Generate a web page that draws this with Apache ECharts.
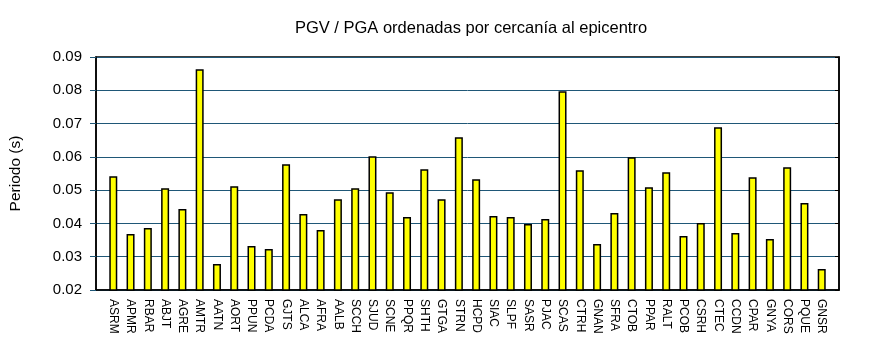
<!DOCTYPE html>
<html>
<head>
<meta charset="utf-8">
<script src="https://cdn.jsdelivr.net/npm/echarts@6/dist/echarts.min.js"></script>
<style>
  html, body { margin: 0; padding: 0; background: #fff; }
  #chart { width: 870px; height: 350px; }
</style>
</head>
<body>
<div id="chart"></div>
<script>
// Stations ordered by distance to the epicentre
const stations = [
  'ASRM','APMR','RBAR','ABJT','AGRE','AMTR','AATN','AORT','PPUN','PCDA',
  'GJTS','ALCA','AFRA','AALB','SCCH','SJUD','SCNE','PPQR','SHTH','GTGA',
  'STRN','HCPD','SIAC','SLPF','SASR','PJAC','SCAS','CTRH','GNAN','SFRA',
  'CTOB','PPAR','RALT','PCOB','CSRH','CTEC','CCDN','CPAR','GNYA','CORS',
  'PQUE','GNSR'
];

// PGV / PGA ratio for each station (s)
const ratios = [
  0.0542, 0.0368, 0.0386, 0.0506, 0.0443, 0.0863, 0.0278, 0.0512, 0.0332, 0.0323,
  0.0578, 0.0428, 0.0380, 0.0473, 0.0506, 0.0602, 0.0494, 0.0419, 0.0563, 0.0473,
  0.0659, 0.0533, 0.0422, 0.0419, 0.0398, 0.0413, 0.0797, 0.0560, 0.0338, 0.0431,
  0.0599, 0.0509, 0.0554, 0.0362, 0.0401, 0.0689, 0.0371, 0.0539, 0.0353, 0.0569,
  0.0461, 0.0263
];

// Y axis range and step
const yMin = 0.02;
const yMax = 0.09;
const yStep = 0.01;

const font = 'Liberation Sans, Arial, sans-serif';

// One empty slot at each end so the stations sit one step in from the frame
const axisCats = [''].concat(stations, ['']);
const axisVals = [null].concat(ratios, [null]);

const chart = echarts.init(document.getElementById('chart'), null, { renderer: 'canvas' });

chart.setOption({
  animation: false,
  backgroundColor: '#ffffff',
  title: {
    text: 'PGV / PGA ordenadas por cercanía al epicentro',
    left: 466,
    textAlign: 'center',
    top: 15,
    textStyle: { fontFamily: font, fontSize: 16.5, fontWeight: 'normal', color: '#000' }
  },
  grid: {
    left: 94, right: 31, top: 57, bottom: 60,
    show: true,
    borderColor: '#000',
    borderWidth: 1.5,
    backgroundColor: 'transparent'
  },
  xAxis: {
    type: 'category',
    data: axisCats,
    boundaryGap: false,
    axisLine: { show: true, lineStyle: { color: '#000', width: 1.5 } },
    axisTick: { show: false },
    axisLabel: {
      rotate: -90,
      interval: 0,
      margin: 9,
      fontFamily: font,
      fontSize: 12,
      color: '#000'
    }
  },
  yAxis: [
    {
      type: 'value',
      min: yMin,
      max: yMax,
      interval: yStep,
      name: 'Periodo (s)',
      nameLocation: 'middle',
      nameGap: 72,
      nameTextStyle: { fontFamily: font, fontSize: 15.5, color: '#000' },
      axisLine: { show: true, lineStyle: { color: '#000', width: 1.5 } },
      axisTick: { show: true, length: 6, lineStyle: { color: '#1f5777', width: 1 } },
      axisLabel: {
        formatter: v => v.toFixed(2),
        fontFamily: font,
        fontSize: 15,
        color: '#000',
        margin: 14
      },
      splitLine: { show: true, lineStyle: { color: '#1f5777', width: 1 } }
    },
    {
      type: 'value',
      position: 'right',
      min: yMin,
      max: yMax,
      interval: yStep,
      axisLine: { show: true, lineStyle: { color: '#000', width: 1.5 } },
      axisTick: { show: true, inside: true, length: 4, lineStyle: { color: '#000' } },
      axisLabel: { show: false },
      splitLine: { show: false }
    }
  ],
  series: [
    {
      type: 'bar',
      data: axisVals,
      barWidth: 8,
      itemStyle: {
        color: '#ffff00',
        borderColor: '#000',
        borderWidth: 1.5
      }
    }
  ]
});
</script>
</body>
</html>
